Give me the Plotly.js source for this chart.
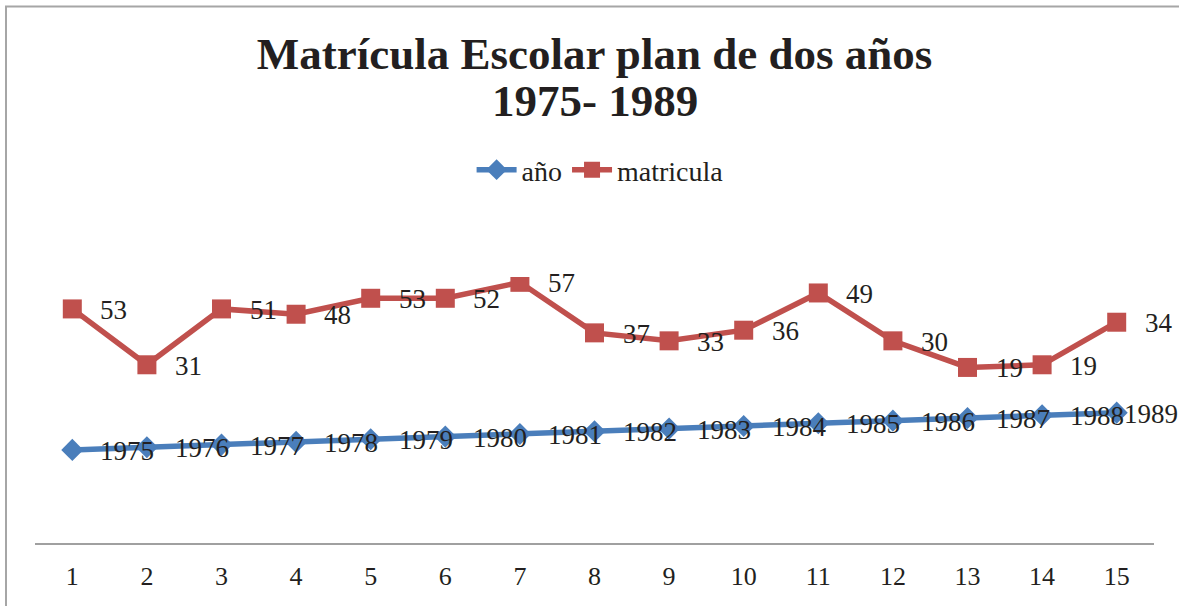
<!DOCTYPE html>
<html>
<head>
<meta charset="utf-8">
<script src="https://cdn.plot.ly/plotly-3.0.1.min.js"></script>
<style>
  html, body { margin: 0; padding: 0; background: #ffffff; }
  #chart { width: 1179px; height: 606px; }
</style>
</head>
<body>
<div id="chart"></div>
<script>
// ---- Data ----
const categories = [1, 2, 3, 4, 5, 6, 7, 8, 9, 10, 11, 12, 13, 14, 15];
const anio = [1975, 1976, 1977, 1978, 1979, 1980, 1981, 1982, 1983, 1984, 1985, 1986, 1987, 1988, 1989];
const matricula = [53, 31, 51, 48, 53, 52, 57, 37, 33, 36, 49, 30, 19, 19, 34];
const seriesNames = ["año", "matricula"];
const titleLine1 = "Matrícula Escolar plan de dos años";
const titleLine2 = "1975- 1989";

// ---- Layout constants ----
const W = 1179, H = 606;
const M = { l: 35, r: 25, t: 277, b: 63 };
const FONT = "Liberation Serif, Times New Roman, serif";
const TXT = "#231f20";
const BLUE = "#4a7ebb";
const RED = "#c0504d";
const LABEL_SIZE = 27;

// stacked line (Excel "stacked line" chart)
const stackedTop = anio.map((v, i) => v + matricula[i]);

const traces = [
  {
    x: categories, y: anio, name: seriesNames[0], type: "scatter", mode: "lines+markers",
    line: { color: BLUE, width: 5.5 },
    marker: { symbol: "diamond", size: 17, color: BLUE }
  },
  {
    x: categories, y: stackedTop, name: seriesNames[1], type: "scatter", mode: "lines+markers",
    line: { color: RED, width: 5.5 },
    marker: { symbol: "square", size: 19, color: RED }
  }
];

// data labels placed to the right of each point
const plotW = W - M.l - M.r;
const xr = [0.5, 15.5];
function pxOf(x) { return M.l + (x - xr[0]) / (xr[1] - xr[0]) * plotW; }
function labelAnn(x, y, txt) {
  const w = String(txt).length * 0.5 * LABEL_SIZE;
  let shift = 26;
  const px = pxOf(x);
  if (px + shift + w > W - 3) shift = (W - 3) - w - px;
  return {
    x: x, y: y, xref: "x", yref: "y", text: String(txt), showarrow: false,
    xanchor: "left", yanchor: "middle", xshift: shift, yshift: -1,
    font: { family: FONT, size: LABEL_SIZE, color: TXT }
  };
}
const annotations = [];
categories.forEach((c, i) => annotations.push(labelAnn(c, anio[i], anio[i])));
categories.forEach((c, i) => annotations.push(labelAnn(c, stackedTop[i], matricula[i])));

// second title line
annotations.push({
  xref: "paper", yref: "paper", x: 0.5, y: (H - M.b - 101) / (H - M.t - M.b),
  text: "<b>" + titleLine2 + "</b>", showarrow: false, xanchor: "center", yanchor: "middle",
  font: { family: FONT, size: 45, color: TXT }
});

const layout = {
  width: W, height: H,
  margin: M,
  paper_bgcolor: "#ffffff", plot_bgcolor: "#ffffff",
  title: {
    text: "<b>" + titleLine1 + "</b>",
    font: { family: FONT, size: 45, color: TXT },
    x: 0.5, xref: "paper", xanchor: "center",
    y: 1 - 53 / H, yref: "container", yanchor: "middle"
  },
  showlegend: true,
  legend: {
    orientation: "h", x: 0.505, xanchor: "center", xref: "paper",
    y: (H - M.b - 170) / (H - M.t - M.b), yanchor: "middle", yref: "paper",
    font: { family: FONT, size: 28, color: TXT },
    itemwidth: 40, traceorder: "normal"
  },
  xaxis: {
    range: xr, tickmode: "array", tickvals: categories, ticktext: categories.map(String),
    showgrid: false, zeroline: false, showline: true, linecolor: "#a0a0a0", linewidth: 2,
    ticks: "", ticklabelstandoff: 9,
    tickfont: { family: FONT, size: 26, color: TXT }, fixedrange: true
  },
  yaxis: {
    range: [1940, 2040], visible: false, showgrid: false, zeroline: false, fixedrange: true
  },
  annotations: annotations,
  shapes: [{
    type: "rect", xref: "paper", yref: "paper",
    x0: (6 - M.l) / plotW, x1: (W + 5 - M.l) / plotW,
    y0: (H - M.b - (H + 5)) / (H - M.t - M.b), y1: (H - M.b - 6.5) / (H - M.t - M.b),
    line: { color: "#a6a6a6", width: 2 }, fillcolor: "rgba(0,0,0,0)", layer: "below"
  }]
};

Plotly.newPlot("chart", traces, layout, { displayModeBar: false, staticPlot: true });
</script>
</body>
</html>
